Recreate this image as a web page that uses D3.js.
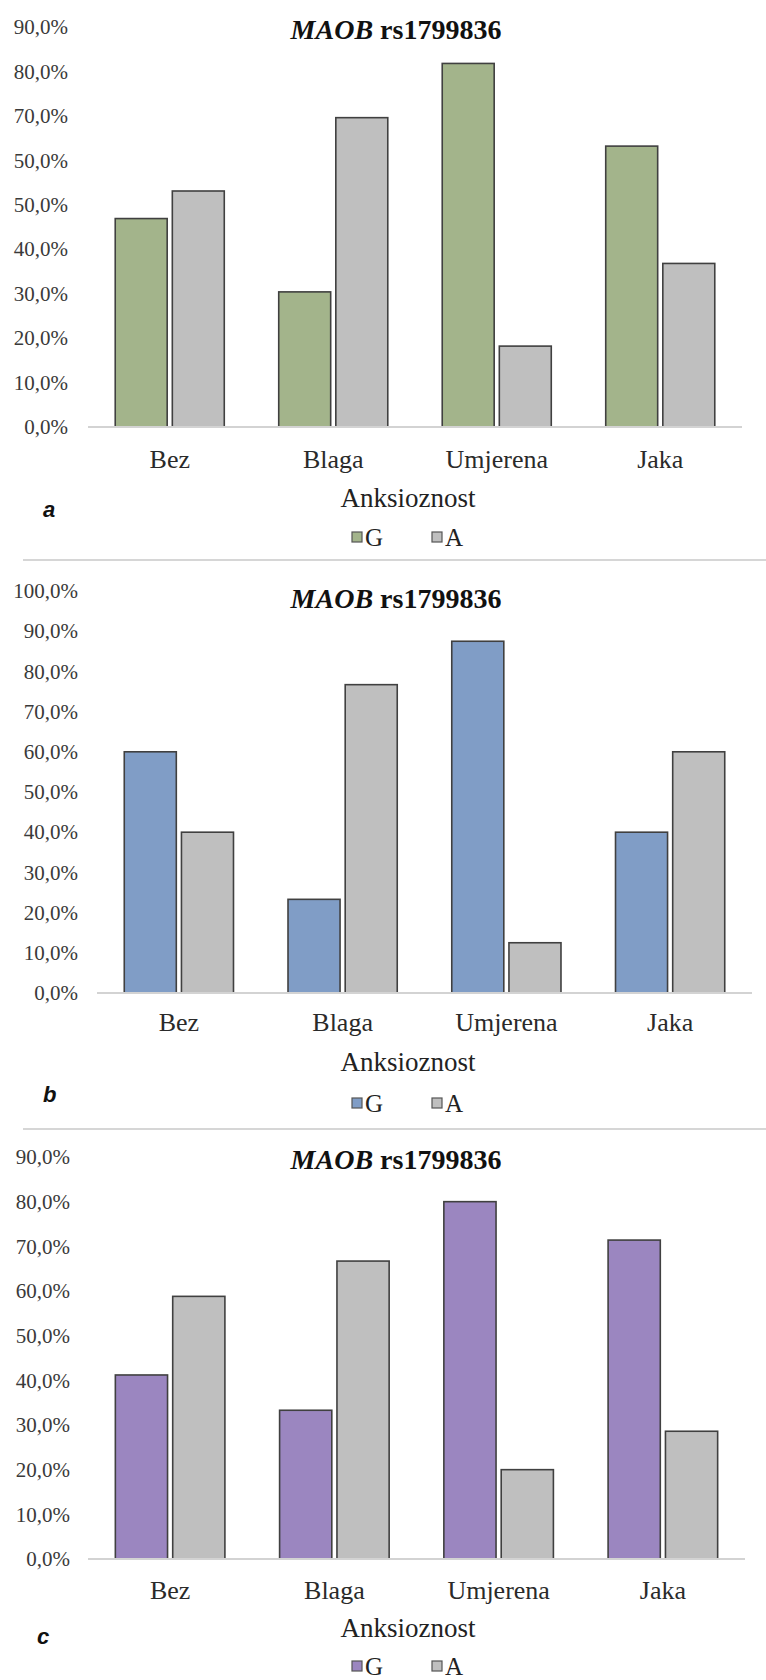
<!DOCTYPE html>
<html>
<head>
<meta charset="utf-8">
<script src="https://cdn.jsdelivr.net/npm/d3@7"></script>
<style>
  html, body { margin: 0; padding: 0; background: #fff; }
  svg { display: block; }
  .serif { font-family: "Liberation Serif", "Times New Roman", serif; }
  .sans { font-family: "Liberation Sans", Arial, sans-serif; }
</style>
</head>
<body>
<svg id="chart" width="766" height="1680"></svg>
<script>
// Anxiety level categories and allele labels
const categories = ["Bez", "Blaga", "Umjerena", "Jaka"];
const alleles = ["G", "A"];

// Allele frequencies (%) per anxiety level, three groups a, b, c
const gValuesA = [46.9, 30.4, 81.8, 63.2];
const aValuesA = [53.1, 69.6, 18.2, 36.8];
const gValuesB = [60.0, 23.3, 87.5, 40.0];
const aValuesB = [40.0, 76.7, 12.5, 60.0];
const gValuesC = [41.2, 33.3, 80.0, 71.4];
const aValuesC = [58.8, 66.7, 20.0, 28.6];

// Y-axis tick labels as printed on each panel
const tickLabelsA = ["0,0%", "10,0%", "20,0%", "30,0%", "40,0%", "50,0%", "50,0%", "70,0%", "80,0%", "90,0%"];
const tickLabelsB = ["0,0%", "10,0%", "20,0%", "30,0%", "40,0%", "50,0%", "60,0%", "70,0%", "80,0%", "90,0%", "100,0%"];
const tickLabelsC = ["0,0%", "10,0%", "20,0%", "30,0%", "40,0%", "50,0%", "60,0%", "70,0%", "80,0%", "90,0%"];

const panelLetters = ["a", "b", "c"];
const titleGene = "MAOB";
const titleSnp = " rs1799836";
const xAxisTitle = "Anksioznost";

// Panel geometry and fill colours
const panels = [
  { letter: panelLetters[0], g: gValuesA, a: aValuesA, ticks: tickLabelsA, max: 90,
    x0: 88, x1: 742, base: 427, top: 27, tickRight: 68,
    titleY: 29, catY: 459, axisTitleY: 498, legendY: 537, letterY: 509, letterX: 43,
    fill: "#a3b48b" },
  { letter: panelLetters[1], g: gValuesB, a: aValuesB, ticks: tickLabelsB, max: 100,
    x0: 97, x1: 752, base: 993, top: 591, tickRight: 78,
    titleY: 598, catY: 1022, axisTitleY: 1062, legendY: 1103, letterY: 1094, letterX: 43,
    fill: "#809dc6" },
  { letter: panelLetters[2], g: gValuesC, a: aValuesC, ticks: tickLabelsC, max: 90,
    x0: 88, x1: 745, base: 1559, top: 1157, tickRight: 70,
    titleY: 1159, catY: 1590, axisTitleY: 1628, legendY: 1666, letterY: 1636, letterX: 37,
    fill: "#9b86c0" }
];
const grayFill = "#bfbfbf";
const barStroke = "#404040";

const svg = d3.select("#chart");

// Separator rules between the panels
[560, 1129].forEach(y => {
  svg.append("line")
    .attr("x1", 23).attr("x2", 766).attr("y1", y).attr("y2", y)
    .attr("stroke", "#d6d6d6").attr("stroke-width", 2);
});

panels.forEach(p => {
  const g = svg.append("g");

  const x = d3.scaleBand().domain(categories).range([p.x0, p.x1]).paddingInner(0).paddingOuter(0);
  const groupW = x.bandwidth() * 0.667;
  const xs = d3.scaleBand().domain(alleles).range([0, groupW]).paddingInner(0.09);
  const y = d3.scaleLinear().domain([0, p.max]).range([p.base, p.top]);

  // Title
  const t = g.append("text")
    .attr("class", "serif")
    .attr("x", 396).attr("y", p.titleY).attr("dy", "0.35em")
    .attr("text-anchor", "middle")
    .style("font-size", "28px").style("font-weight", "bold")
    .attr("fill", "#111");
  t.append("tspan").style("font-style", "italic").text(titleGene);
  t.append("tspan").text(titleSnp);

  // Y axis labels
  const yAxis = d3.axisLeft(y)
    .tickValues(d3.range(0, p.max + 1, 10))
    .tickFormat((d, i) => p.ticks[i])
    .tickSize(0).tickPadding(0);
  const ya = g.append("g").attr("transform", `translate(${p.tickRight},0)`).call(yAxis);
  ya.select(".domain").remove();
  ya.attr("font-family", null).attr("font-size", null).attr("class", "serif");
  ya.selectAll("text")
    .style("font-size", "21px").attr("fill", "#3a3a3a");

  // Bars
  const rows = categories.map((c, i) => ({ cat: c, vals: [
    { key: "G", v: p.g[i], fill: p.fill },
    { key: "A", v: p.a[i], fill: grayFill }
  ]}));
  const grp = g.selectAll(".grp").data(rows).join("g")
    .attr("transform", d => `translate(${x(d.cat) + (x.bandwidth() - groupW) / 2},0)`);
  grp.selectAll("rect").data(d => d.vals).join("rect")
    .attr("x", d => xs(d.key))
    .attr("width", xs.bandwidth())
    .attr("y", d => y(d.v))
    .attr("height", d => y(0) - y(d.v))
    .attr("fill", d => d.fill)
    .attr("stroke", barStroke).attr("stroke-width", 1.6);

  // Baseline
  g.append("line")
    .attr("x1", p.x0).attr("x2", p.x1).attr("y1", y(0)).attr("y2", y(0))
    .attr("stroke", "#d3d3d3").attr("stroke-width", 2);

  // Category axis
  const catSize = 26;
  const xAxis = d3.axisBottom(x).tickSize(0)
    .tickPadding(p.catY - p.base - 0.36 * catSize);
  const xa = g.append("g").attr("transform", `translate(0,${p.base})`).call(xAxis);
  xa.select(".domain").remove();
  xa.attr("font-family", null).attr("font-size", null).attr("class", "serif");
  xa.selectAll("text")
    .style("font-size", catSize + "px").attr("fill", "#2a2a2a");

  // Axis title
  g.append("text")
    .attr("class", "serif")
    .attr("x", 408).attr("y", p.axisTitleY).attr("dy", "0.35em")
    .attr("text-anchor", "middle")
    .style("font-size", "27px").attr("fill", "#222")
    .text(xAxisTitle);

  // Panel letter
  g.append("text")
    .attr("class", "sans")
    .attr("x", p.letterX).attr("y", p.letterY).attr("dy", "0.35em")
    .style("font-size", "22px")
    .style("font-weight", "bold").style("font-style", "italic").attr("fill", "#111")
    .text(p.letter);

  // Legend
  const legendItems = [
    { key: alleles[0], fill: p.fill, x: 352 },
    { key: alleles[1], fill: grayFill, x: 432 }
  ];
  const lg = g.selectAll(".lg").data(legendItems).join("g")
    .attr("transform", d => `translate(${d.x},${p.legendY})`);
  lg.append("rect")
    .attr("x", 0).attr("y", -5).attr("width", 10).attr("height", 10)
    .attr("fill", d => d.fill).attr("stroke", "#555").attr("stroke-width", 1.2);
  lg.append("text")
    .attr("class", "serif")
    .attr("x", 13).attr("y", 0).attr("dy", "0.35em")
    .style("font-size", "25px").attr("fill", "#222")
    .text(d => d.key);
});
</script>
</body>
</html>
